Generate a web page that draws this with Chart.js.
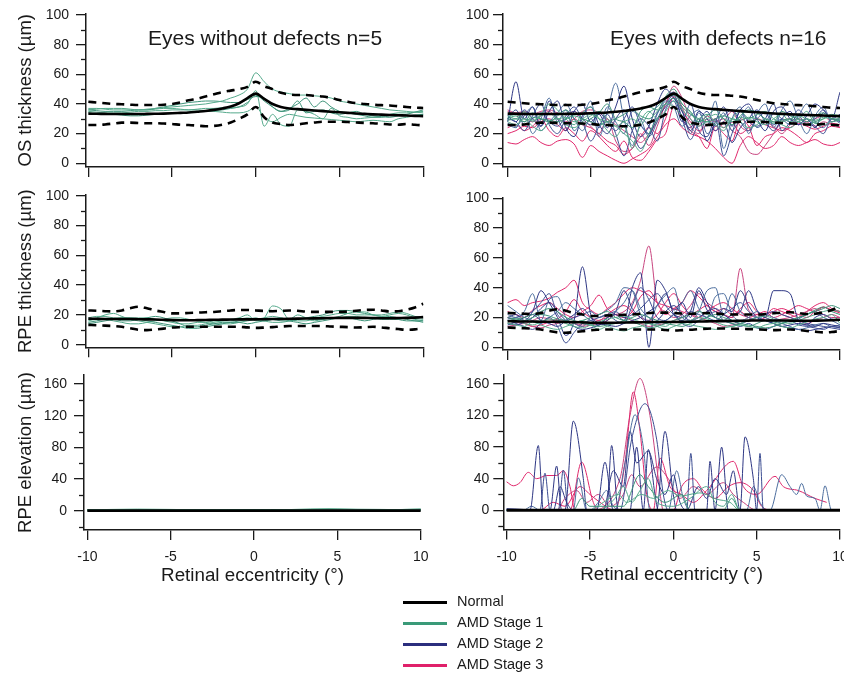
<!DOCTYPE html>
<html>
<head>
<meta charset="utf-8">
<script src="https://cdn.jsdelivr.net/npm/chart.js@4.4.0/dist/chart.umd.min.js"></script>
<style>
body { margin: 0; background: #fff; width: 844px; height: 673px; overflow: hidden; position: relative;
       font-family: "Liberation Sans", Arial, sans-serif; color: #1a1a1a; }
canvas { position: absolute; left: 0; top: 0; }
.ttl { position: absolute; font-size: 21px; line-height: 21px; white-space: nowrap; }
.leg { position: absolute; left: 403px; font-size: 14.5px; line-height: 21px; white-space: nowrap; }
.leg span { display: inline-block; width: 44px; height: 3px; vertical-align: middle; margin-right: 10px; }
</style>
</head>
<body>
<canvas id="osL" width="844" height="673"></canvas>
<canvas id="osR" width="844" height="673"></canvas>
<canvas id="rpeL" width="844" height="673"></canvas>
<canvas id="rpeR" width="844" height="673"></canvas>
<canvas id="elL" width="844" height="673"></canvas>
<canvas id="elR" width="844" height="673"></canvas>

<div class="ttl" style="left:148px;top:27px">Eyes without defects n=5</div>
<div class="ttl" style="left:610px;top:27px">Eyes with defects n=16</div>

<div class="leg" style="top:591px"><span style="background:#000"></span>Normal</div>
<div class="leg" style="top:612px"><span style="background:#3a9a78"></span>AMD Stage 1</div>
<div class="leg" style="top:633px"><span style="background:#2b2e7e"></span>AMD Stage 2</div>
<div class="leg" style="top:654px"><span style="background:#e0206a"></span>AMD Stage 3</div>

<script>
// retinal eccentricity grid (deg)
const ecc = [-10,-9.5,-9,-8.5,-8,-7.5,-7,-6.5,-6,-5.5,-5,-4.5,-4,-3.5,-3,-2.5,-2,-1.5,-1,-0.5,0,0.5,1,1.5,2,2.5,3,3.5,4,4.5,5,5.5,6,6.5,7,7.5,8,8.5,9,9.5,10];
const xTicks = [-10, -5, 0, 5, 10];
const thickTicks = [0, 20, 40, 60, 80, 100];
const thickMinor = [10, 30, 50, 70, 90];
const elevTicks = [0, 40, 80, 120, 160];
const elevMinor = [-20, 20, 60, 100, 140];

// normal reference (mean and dashed bounds)
const osMean  = [33.5,33.4,33.3,33.2,33.2,33.2,33.2,33.3,33.4,33.5,33.7,34,34.3,34.8,35.3,36,37,38.3,40.5,44,47,43.5,40,38,37,36.5,36,35.6,35.2,34.8,34.4,34,33.6,33.3,33,32.8,32.6,32.4,32.2,32,31.8];
const osUpper = [41.5,41,40.5,40,39.8,39.5,39.3,39.3,39.3,39.5,40,41,42.5,43.5,45,46.5,48,49,50,51.5,55,52,50,47.5,46.5,46,46,45.5,45,44,42.7,41.5,40.5,40,39.5,39.2,39,38.5,38,37.5,37.3];
const osLower = [25.8,25.8,26.2,26.8,27.4,27.4,27.2,27,27,26.8,26.5,26,25.8,25.4,25,25.2,26,27.5,30,33,38,31,27.5,26.5,25.8,26.2,27,27.5,28,28,28,27.8,27.5,27.2,27,26.6,26.2,26,26.5,26,25.5];
const rpeMean  = [17.5,17.4,17.3,17.3,17.2,17.2,17.1,17,16.9,16.7,16.5,16.4,16.4,16.5,16.6,16.7,16.8,16.9,17,17,17,17.1,17.2,17.3,17.4,17.5,17.6,17.7,17.8,17.9,18,18,18,18,17.9,17.8,17.8,17.9,18,18.2,18.5];
const rpeUpper = [23,22.8,22.5,22.3,23,24.5,25.5,24.5,23,22,21,21,21.3,21.5,21.8,22,22.5,23,23.3,23.3,23,22.7,22.5,22.7,23,22.8,22.2,22,22,22,22,22.3,22.8,23.3,23.5,23,22.3,22.5,23.5,25,27.5];
const rpeLower = [13.3,13,12.8,12.5,12,11,10,9.8,10.2,10.8,11.5,11.8,12,12,12,12,12,12,12,11.6,11.3,11.5,11.8,12.2,12.5,12.6,12.6,12.5,12.5,12.2,12,11.8,11.5,11.7,12,11.6,11,10.5,10,10.3,11];
const elevMean = [[-10,0],[10,0]];

// eyes without defects (AMD stage 1)
const osLeftStage1 = [
  [37,37,36.5,36,36,36,36,36.5,37,37.5,38,38.5,39,39.5,40,41,42,44,46,50,61,55,50,48,47,46,46,45.5,45,44,42,41,40,39,38,37,36,35.5,35,34.5,34],
  [36,35.5,35,35,35,35.5,36,36,37,38,39,40,41,41.5,42,42,41.5,41,41,43,45,44,38,35,36,42,34,35,36,34,33,34,35,33,32,31.5,31,32,33,34.5,36],
  [35,34.5,34,34,34,34.5,35,35,35.5,35.5,36,36,36,36.5,37,37,37.5,37.5,38,40,49,25,33,26,25,36,35,33,30,37,32,31,30,30.5,31,32,33,34,34,34.5,35],
  [34,33.5,33,33,32.5,32,32,32.5,33,33.5,34,34,34.5,35,35,35.5,36,37,38,41,46,42,38,35,37,40,44,38,42,38,35,34,33,32,31,31,32,32,32,32.5,33],
  [36,36.5,37,37,37,36.5,36,36,36.5,37,37,36.5,36,36,35.5,35,34.5,34,34,35,38,31,28,31,33,32,31,30.5,30,29.5,29,28.5,28,28.5,29,28.5,28,30,31,32,33]
];
const rpeLeftStage1 = [
  [17,18,20,21,19,17,16,15,14,13,12,12,13,13,14,15,16,17,18,20,16,18,26,24,17,20,18,16,17,18,19,21,22,22,20,19,20,21,20,18,17],
  [15,16,17,17,16,16,17,18,19,18,16,14,12,12,13,14,15,15,16,17,18,16,17,16,16,17,18,19,20,22,23,23,22,21,20,19,18,17,16,16,15],
  [18,19,19,18,18,18,18,18,17,16,15,14,14,15,15,16,16,16,17,18,17,16,15,15,16,17,18,18,19,20,21,21,20,20,20,20,21,22,21,19,18],
  [14,15,16,17,18,18,17,16,15,14,13,12,11,11,12,13,14,15,15,14,15,16,17,18,16,15,14,15,16,17,18,18,17,16,17,18,19,18,17,16,16],
  [16,17,17,16,15,14,14,15,16,17,18,18,17,16,15,14,14,14,15,16,17,18,19,18,17,16,16,17,17,18,18,19,19,18,18,17,17,17,18,17,16]
];
const elevLeftStage1 = [
  [[-10,1],[-7,2],[-3,1],[0,0.5],[4.5,2.5],[7,1],[10,2]],
  [[-10,0.5],[-6,1.5],[-2,0.5],[2,1],[5,2],[10,1]],
  [[-10,0],[-5,1],[0,0],[5,1],[10,0.5]],
  [[-10,1.5],[-8,0.5],[-4,1],[1,1.5],[6,0.5],[10,2]],
  [[-10,0],[-3,0.5],[3,0],[7,1],[10,1]]
];

// eyes with defects: OS thickness
const osRightStage1 = [
  [32,30,35,28,33,40,36,30,26,34,38,30,22,18,25,10,28,35,30,40,38,32,26,30,33,28,24,30,35,30,28,26,30,33,28,30,35,27,30,33,32],
  [30,32,28,34,30,28,32,36,30,26,30,34,40,30,28,24,35,38,36,45,50,40,35,28,32,36,30,26,32,36,34,30,28,35,32,30,28,32,34,30,29],
  [28,26,30,25,22,28,30,26,24,28,32,35,30,25,20,15,8,20,30,35,42,36,30,25,28,26,22,30,28,24,26,30,28,26,24,28,30,27,26,28,29],
  [29,30,28,31,30,29,28,30,32,30,28,26,28,30,33,36,32,30,35,40,44,38,33,30,28,30,32,30,29,31,30,28,27,29,30,28,26,28,30,32,31],
  [31,33,30,29,32,34,30,31,28,30,33,30,28,25,28,30,26,34,38,44,46,40,34,28,30,33,30,28,31,30,33,35,30,28,30,32,30,29,31,30,30]
];
const osRightStage2 = [
  [28,55,30,38,25,42,30,22,35,40,28,33,24,38,52,30,18,25,40,50,44,35,22,30,15,28,38,25,36,40,30,22,35,38,30,26,32,40,36,30,48],
  [26,24,34,20,30,44,28,36,22,30,42,18,35,54,30,12,25,20,33,44,48,36,20,34,25,42,10,30,38,20,33,40,24,36,42,30,20,32,38,28,30],
  [30,28,22,32,40,26,20,30,35,28,15,25,33,20,5,22,30,25,15,36,42,28,40,22,18,30,5,20,35,28,25,30,40,22,28,36,30,25,20,30,28],
  [32,28,36,30,25,35,42,24,18,32,38,26,20,30,36,22,10,18,30,38,44,30,24,35,30,22,28,14,24,30,36,28,22,30,35,26,30,24,34,30,33],
  [27,25,32,38,22,28,34,40,30,22,30,24,38,28,20,35,30,18,28,42,38,25,32,36,20,26,34,22,30,38,24,28,34,30,26,32,40,28,24,30,27],
  [30,36,26,30,34,28,25,32,38,30,26,34,28,22,30,38,26,20,34,40,46,30,16,28,35,25,32,36,28,22,30,34,26,30,28,32,26,30,36,28,31]
];
const osRightStage3 = [
  [14,13,16,18,14,12,15,16,13,4,12,8,5,2,0,3,6,10,18,26,30,24,20,18,15,10,4,0,12,18,14,10,12,18,14,12,14,16,13,12,14],
  [36,34,35,33,35,36,34,33,35,30,25,20,30,15,8,10,20,12,25,40,48,38,25,20,30,22,28,35,25,22,30,28,25,20,26,30,28,25,28,26,25],
  [24,26,22,25,30,22,18,24,20,15,22,18,12,8,15,4,2,8,16,20,38,30,22,18,10,25,20,15,30,25,12,18,20,24,22,18,14,20,22,25,24],
  [35,33,30,28,32,35,30,28,30,35,36,34,30,26,22,18,14,20,28,40,52,44,30,25,32,28,30,22,18,8,6,12,20,28,30,26,28,30,32,28,30],
  [20,22,25,24,28,30,26,22,30,26,24,20,15,12,6,10,18,24,20,30,45,35,28,22,26,30,24,28,20,24,30,26,24,22,24,27,25,23,25,27,26]
];

// eyes with defects: RPE thickness
const rpeRightStage1 = [
  [16,15,14,17,15,13,12,14,16,18,15,12,14,12,11,13,14,16,15,14,17,16,15,14,13,12,13,14,15,14,13,15,16,14,13,15,17,19,20,22,16],
  [20,19,18,20,22,21,19,18,17,18,20,22,24,20,18,17,15,13,14,16,18,20,22,24,22,20,18,16,15,14,16,18,17,16,18,20,22,25,27,24,22],
  [17,18,16,15,17,19,18,16,14,13,15,17,19,20,21,19,17,16,14,12,14,16,18,20,19,17,15,14,16,18,20,21,19,17,16,18,20,22,24,25,24],
  [18,19,20,22,24,26,24,20,18,16,15,14,15,16,18,20,22,20,18,16,15,14,16,18,20,22,20,18,16,15,14,13,14,16,18,20,22,24,26,28,26]
];
const rpeRightStage2 = [
  [20,22,18,24,38,30,20,8,18,54,22,15,20,22,18,40,50,0,45,38,25,30,20,38,25,20,18,22,24,38,25,20,38,38,36,18,15,20,22,19,18],
  [22,20,24,36,18,32,34,20,16,14,20,22,25,30,40,38,22,18,28,35,40,20,18,24,38,40,22,36,24,20,18,22,20,18,17,19,22,24,20,18,15],
  [18,16,14,12,16,20,14,3,10,16,18,20,22,18,16,28,40,32,20,18,22,16,14,18,20,24,18,16,14,16,13,12,14,16,18,15,14,13,12,14,13],
  [15,17,20,22,18,16,14,18,22,26,20,16,15,14,16,18,20,24,28,36,22,18,24,40,30,20,26,24,38,28,20,18,16,14,15,16,15,14,16,15,14],
  [28,24,20,18,16,20,24,30,26,22,18,16,20,24,30,38,26,20,16,18,22,30,38,26,20,34,36,22,18,20,24,20,18,16,14,12,13,15,16,14,15],
  [19,20,22,24,30,36,22,18,20,22,24,20,22,24,20,22,26,32,36,28,22,20,24,22,20,18,22,26,30,24,20,22,24,22,20,18,16,15,14,13,12],
  [16,15,17,20,26,30,24,18,14,12,13,15,18,24,38,26,20,16,18,24,28,22,18,20,24,26,22,18,16,18,20,18,16,14,13,12,11,12,13,14,13]
];
const rpeRightStage3 = [
  [30,32,28,30,31,33,37,40,45,30,25,22,26,30,36,40,38,35,30,28,26,24,22,25,28,24,26,22,24,20,22,24,20,22,25,28,26,24,27,25,24],
  [18,17,16,18,20,19,18,17,16,15,16,18,20,22,24,30,45,68,30,24,20,22,28,36,30,26,22,20,53,25,22,20,18,19,20,22,24,26,22,20,20],
  [24,22,20,25,28,30,26,22,20,24,28,35,26,22,20,24,34,38,30,22,26,30,38,34,28,24,22,20,26,30,24,22,26,24,22,20,24,28,30,26,24],
  [14,15,16,14,13,15,16,18,16,14,15,16,18,22,20,18,16,14,15,16,18,20,22,20,18,16,14,15,16,18,20,22,24,22,20,18,16,18,20,22,20],
  [20,18,16,14,15,17,19,24,32,24,20,18,22,26,28,24,20,18,22,30,36,28,22,20,24,28,30,26,22,20,18,20,24,26,24,22,20,24,27,25,23]
];

// eyes with defects: RPE elevation, [eccentricity, elevation]
const elevRightStage1 = [
  [[-10,0],[-4.5,0],[-3.5,15],[-3,30],[-2.5,10],[-2,25],[-1.5,40],[-1,10],[0,5],[1,15],[2,30],[2.5,10],[3,5],[3.5,20],[4,0],[10,0]],
  [[-10,0],[-6,0],[-5.5,15],[-5,5],[-3,5],[-2,45],[-1.5,30],[-0.5,10],[0.5,20],[1,0],[3,0],[3.5,15],[4,0],[10,0]],
  [[-10,0],[-5,0],[-4.2,10],[-3.3,20],[-2.8,10],[-1.9,20],[-1.2,15],[-0.3,25],[0.4,18],[1.6,22],[2.6,14],[3.4,10],[4,0],[10,0]]
];
const elevRightStage2 = [
  [[-10,2],[-9,1],[-8.6,0],[-8.1,82],[-7.8,0],[-7.4,0],[-7,56],[-6.7,0],[-6.5,0],[-6,113],[-5.4,40],[-5.2,0],[-4,0],[-3.7,82],[-3.3,0],[-1,0],[-0.5,100],[0,20],[0.2,0],[4,0],[4.3,93],[4.8,40],[5,0],[10,0]],
  [[-10,0],[-3.5,0],[-2.9,60],[-2.3,121],[-1.8,80],[-1.4,0],[10,0]],
  [[-10,0],[-3.2,0],[-2.5,90],[-1.7,135],[-1,90],[-0.6,20],[-0.3,0],[10,0]],
  [[-10,0],[-4.6,0],[-4.1,61],[-3.6,0],[-2.6,0],[-2.2,80],[-1.8,0],[-1.5,77],[-1.1,20],[-0.9,0],[2,0],[2.2,62],[2.5,0],[2.9,80],[3.3,0],[10,0]],
  [[-10,0],[-6,0],[-5.7,41],[-5.2,0],[5.8,0],[6.5,45],[7,30],[7.4,20],[7.7,34],[8,18],[8.5,15],[8.8,0],[9.1,31],[9.5,0],[10,0]],
  [[-10,0],[-8,0],[-7.7,47],[-7.4,0],[-6.9,0],[-6.6,51],[-6.3,0],[0.8,0],[1.05,72],[1.3,0],[5,0],[5.2,72],[5.4,0],[10,0]],
  [[-10,0],[-7.2,0],[-6.8,30],[-6.4,10],[-6,0],[-4.2,0],[-3.6,50],[-3,30],[-2.6,100],[-2.2,60],[-1.5,75],[-1,40],[-0.5,20],[0,45],[0.4,10],[0.8,0],[1.5,30],[2,15],[2.5,40],[3.2,20],[3.6,50],[4,0],[10,0]],
  [[-10,0],[-9,0],[-8.5,5],[-8,0],[-5,0],[-4.5,10],[-4,25],[-3.6,5],[-3,0],[-0.3,0],[0.2,50],[0.6,15],[1,0],[4.4,0],[4.8,30],[5.2,10],[5.6,0],[10,0]]
];
const elevRightStage3 = [
  [[-10,36],[-9.6,31],[-9.2,35],[-8.7,48],[-8.2,40],[-7.6,44],[-7,44],[-6.6,50],[-6.2,30],[-5.9,0],[-3.5,0],[-2.9,60],[-2.4,150],[-2,100],[-1.6,20],[-1.2,0],[10,0]],
  [[-10,0],[-5,0],[-3.2,40],[-2.6,120],[-2,167],[-1.4,120],[-0.9,40],[-0.6,0],[10,0]],
  [[-10,0],[-6.2,0],[-5.5,61],[-4.8,10],[-4.5,0],[-1.2,0],[-0.8,66],[-0.2,30],[0.5,20],[1.2,10],[2,25],[3.6,62],[4.2,30],[5,20],[6.1,43],[6.6,30],[7.5,25],[8.5,15],[9.2,10]],
  [[-10,0],[-7,0],[-6.5,15],[-5.8,25],[-5.2,10],[-4.5,20],[-3.8,5],[-3,20],[-2.5,45],[-2,30],[-1,55],[-0.3,40],[0.4,15],[1.2,30],[2,20],[3,35],[3.6,20],[4.2,10],[5,0],[10,0]],
  [[-10,0],[-8,0],[-7.2,10],[-6.5,5],[-5.6,30],[-5,20],[-4.4,10],[-3.5,0],[0,0],[0.5,30],[1.2,40],[1.8,25],[2.5,15],[3.3,30],[4,35],[4.8,25],[5.3,5],[6,0],[10,0]]
];

const FONT = '"Liberation Sans", Arial, sans-serif';
const INK = '#1a1a1a';
const stageColors = {
  1: ['#55a98b', '#3f947a'],
  2: ['#2e3784', '#4d6e9e', '#3d4e92'],
  3: ['#e0286c', '#c8457f']
};

const onGrid = ys => ys.map((y, i) => ({x: ecc[i], y}));
const fromPairs = ps => ps.map(([x, y]) => ({x, y}));

function stageSets(lines, stage, toData) {
  const cols = stageColors[stage];
  return lines.map((l, i) => ({data: toData(l), borderColor: cols[i % cols.length], borderWidth: 1}));
}
function normalSets(mean, upper, lower) {
  const sets = [{data: onGrid(mean), borderColor: '#000', borderWidth: 2.6}];
  if (upper) {
    sets.push({data: onGrid(upper), borderColor: '#000', borderWidth: 2.6, borderDash: [8, 6]});
    sets.push({data: onGrid(lower), borderColor: '#000', borderWidth: 2.6, borderDash: [8, 6]});
  }
  return sets;
}

const minorTicks = {
  id: 'minorTicks',
  afterDraw(chart, args, opts) {
    const y = chart.scales.y, ctx = chart.ctx;
    ctx.save();
    ctx.strokeStyle = INK;
    ctx.lineWidth = 1.3;
    opts.values.forEach(v => {
      const py = Math.round(y.getPixelForValue(v)) + 0.5;
      ctx.beginPath();
      ctx.moveTo(y.right - 5, py);
      ctx.lineTo(y.right, py);
      ctx.stroke();
    });
    ctx.restore();
  }
};

// area = [left, top, right, bottom] of the plot box in page pixels
function panel(id, p) {
  const [aL, aT, aR, aB] = p.area;
  new Chart(document.getElementById(id), {
    type: 'line',
    data: {datasets: p.datasets},
    options: {
      responsive: false,
      animation: false,
      events: [],
      layout: {autoPadding: false, padding: {left: aL - p.yW, top: aT, right: 844 - aR, bottom: 673 - aB - p.xH}},
      elements: {point: {radius: 0}, line: {cubicInterpolationMode: 'monotone', borderWidth: 1}},
      plugins: {legend: {display: false}, tooltip: {enabled: false}, minorTicks: {values: p.minor}},
      scales: {
        x: {
          type: 'linear', min: p.x[0], max: p.x[1],
          afterBuildTicks: s => { s.ticks = xTicks.map(v => ({value: v})); },
          afterFit: s => { s.height = p.xH; s.paddingLeft = 0; s.paddingRight = 0; },
          grid: {drawOnChartArea: false, drawTicks: true, tickLength: 10, color: INK, lineWidth: 1.3},
          border: {display: true, color: INK, width: 1.5},
          ticks: {display: !!p.xTitle, color: INK, padding: 9, font: {family: FONT, size: 14}},
          title: {display: !!p.xTitle, text: p.xTitle || '', color: INK, padding: {top: 0, bottom: 3}, font: {family: FONT, size: 18.8}}
        },
        y: {
          type: 'linear', min: p.y[0], max: p.y[1],
          afterBuildTicks: s => { s.ticks = p.ticks.map(v => ({value: v})); },
          afterFit: s => { s.width = p.yW; s.paddingTop = 0; s.paddingBottom = 0; },
          grid: {drawOnChartArea: false, drawTicks: true, tickLength: 10, color: INK, lineWidth: 1.3},
          border: {display: true, color: INK, width: 1.5},
          ticks: {color: INK, padding: p.yPad, font: {family: FONT, size: 14}},
          title: {display: !!p.yTitle, text: p.yTitle || '', color: INK, padding: {top: 15, bottom: 0}, font: {family: FONT, size: 18.5}}
        }
      }
    },
    plugins: [minorTicks]
  });
}

panel('osL', {
  area: [86, 13.5, 423.6, 167], x: [-10.14, 10.02], y: [-2.5, 101], yW: 86, xH: 12, yPad: 7,
  ticks: thickTicks, minor: thickMinor, yTitle: 'OS thickness (µm)',
  datasets: [...normalSets(osMean, osUpper, osLower), ...stageSets(osLeftStage1, 1, onGrid)]
});
panel('osR', {
  area: [503, 13.5, 840, 167], x: [-10.28, 10], y: [-2.5, 101], yW: 45, xH: 12, yPad: 4,
  ticks: thickTicks, minor: thickMinor,
  datasets: [...normalSets(osMean, osUpper, osLower),
             ...stageSets(osRightStage1, 1, onGrid), ...stageSets(osRightStage2, 2, onGrid), ...stageSets(osRightStage3, 3, onGrid)]
});
panel('rpeL', {
  area: [86, 195, 423.6, 347.3], x: [-10.14, 10.02], y: [-1.75, 100.5], yW: 86, xH: 12, yPad: 7,
  ticks: thickTicks, minor: thickMinor, yTitle: 'RPE thickness (µm)',
  datasets: [...normalSets(rpeMean, rpeUpper, rpeLower), ...stageSets(rpeLeftStage1, 1, onGrid)]
});
panel('rpeR', {
  area: [503, 197.5, 840, 350], x: [-10.28, 10], y: [-1.8, 100.5], yW: 45, xH: 12, yPad: 4,
  ticks: thickTicks, minor: thickMinor,
  datasets: [...normalSets(rpeMean, rpeUpper, rpeLower),
             ...stageSets(rpeRightStage1, 1, onGrid), ...stageSets(rpeRightStage2, 2, onGrid), ...stageSets(rpeRightStage3, 3, onGrid)]
});
panel('elL', {
  area: [84, 375, 421, 530], x: [-10.2, 10.02], y: [-24.4, 171.4], yW: 84, xH: 60, yPad: 7,
  ticks: elevTicks, minor: elevMinor, yTitle: 'RPE elevation (µm)', xTitle: 'Retinal eccentricity (°)',
  datasets: [{data: fromPairs(elevMean), borderColor: '#000', borderWidth: 2.8}, ...stageSets(elevLeftStage1, 1, fromPairs)]
});
panel('elR', {
  area: [503.3, 375, 840, 529.5], x: [-10.2, 10], y: [-24.4, 171.4], yW: 45, xH: 60, yPad: 4,
  ticks: elevTicks, minor: elevMinor, xTitle: 'Retinal eccentricity (°)',
  datasets: [{data: fromPairs(elevMean), borderColor: '#000', borderWidth: 3},
             ...stageSets(elevRightStage1, 1, fromPairs), ...stageSets(elevRightStage2, 2, fromPairs), ...stageSets(elevRightStage3, 3, fromPairs)]
});
</script>
</body>
</html>
